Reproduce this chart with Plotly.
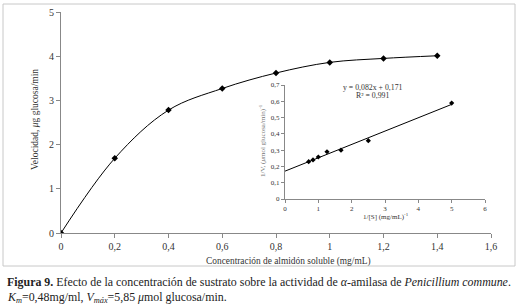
import plotly.graph_objects as go

W, H = 518, 306

# Main curve data
conc = [0, 0.2, 0.4, 0.6, 0.8, 1.0, 1.2, 1.4]
vel = [0, 1.69, 2.78, 3.27, 3.62, 3.86, 3.95, 4.01]

# Lineweaver-Burk inset data
inv_s = [0.71, 0.84, 1.0, 1.26, 1.68, 2.5, 5.0]
inv_v = [0.229, 0.24, 0.258, 0.29, 0.30, 0.358, 0.589]
slope, intercept = 0.082, 0.171

x_ticks = [0, 0.2, 0.4, 0.6, 0.8, 1.0, 1.2, 1.4, 1.6]
x_ticktext = ["0", "0,2", "0,4", "0,6", "0,8", "1", "1,2", "1,4", "1,6"]
y_ticks = [0, 1, 2, 3, 4, 5]
y_ticktext = ["0", "1", "2", "3", "4", "5"]
ix_ticks = [0, 1, 2, 3, 4, 5, 6]
iy_ticks = [0, 0.1, 0.2, 0.3, 0.4, 0.5, 0.6, 0.7]
iy_ticktext = ["0", "0,1", "0,2", "0,3", "0,4", "0,5", "0,6", "0,7"]

def px(x):
    return x / W

def py(y):
    return 1 - y / H

FONT = "Times New Roman, Liberation Serif, DejaVu Serif, serif"

fig = go.Figure()
fig.add_trace(go.Scatter(
    x=conc, y=vel, mode="lines+markers",
    line=dict(color="black", width=1, shape="spline", smoothing=1.0),
    marker=dict(symbol="diamond", size=5, color="black"),
    xaxis="x", yaxis="y", showlegend=False))

fig.add_trace(go.Scatter(
    x=inv_s, y=inv_v, mode="markers",
    marker=dict(symbol="diamond", size=4, color="black"),
    xaxis="x2", yaxis="y2", showlegend=False))

fit_x = [0, max(inv_s)]
fit_y = [slope * v + intercept for v in fit_x]
fig.add_trace(go.Scatter(
    x=fit_x, y=fit_y, mode="lines",
    line=dict(color="black", width=1),
    xaxis="x2", yaxis="y2", showlegend=False))

axis_common = dict(showgrid=False, zeroline=False, showline=True,
                   linecolor="#888", linewidth=1, ticks="outside",
                   tickcolor="#888", mirror=False, automargin=False)

fig.update_layout(
    width=W, height=H,
    margin=dict(l=0, r=0, t=0, b=0, autoexpand=False),
    paper_bgcolor="white", plot_bgcolor="rgba(0,0,0,0)",
    font=dict(family=FONT, color="#333"),
    xaxis=dict(domain=[px(61), px(491)], range=[0, 1.6],
               tickvals=x_ticks, ticktext=x_ticktext, ticklen=4,
               tickfont=dict(size=10, family=FONT, color="#333"),
               anchor="y", **axis_common),
    yaxis=dict(domain=[py(233), py(12)], range=[0, 5],
               tickvals=y_ticks, ticktext=y_ticktext, ticklen=4,
               tickfont=dict(size=10, family=FONT, color="#333"),
               anchor="x", **axis_common),
    xaxis2=dict(domain=[px(285), px(485)], range=[0, 6],
                tickvals=ix_ticks, ticklen=3,
                tickfont=dict(size=7, family=FONT, color="#333"),
                anchor="y2", **axis_common),
    yaxis2=dict(domain=[py(199), py(85)], range=[0, 0.7],
                tickvals=iy_ticks, ticktext=iy_ticktext, ticklen=3,
                tickfont=dict(size=7, family=FONT, color="#333"),
                anchor="x2", **axis_common),
)

fig.add_shape(type="rect", xref="paper", yref="paper",
              x0=px(3), x1=px(515), y0=py(266), y1=py(4),
              line=dict(color="#c8c8c8", width=1), layer="below")

ann = []
ann.append(dict(text="Velocidad, <i>μ</i>g glucosa/min", x=px(35), y=py(120),
                textangle=-90, font=dict(size=9.5, family=FONT, color="#333")))
ann.append(dict(text="Concentración de almidón soluble (mg/mL)", x=px(288), y=py(261),
                font=dict(size=9.4, family=FONT, color="#333")))
ann.append(dict(text="1/V, (<i>μ</i>mol glucosa/min)<sup>-1</sup>", x=px(263), y=py(141),
                textangle=-90, font=dict(size=7, family=FONT, color="#777")))
ann.append(dict(text="1/[S] (mg/mL)<sup>-1</sup>", x=px(386), y=py(216),
                font=dict(size=7, family=FONT, color="#333")))
ann.append(dict(text="y = 0,082x + 0,171", x=px(373), y=py(87),
                font=dict(size=7.8, family=FONT, color="#333")))
ann.append(dict(text="R² = 0,991", x=px(372), y=py(95),
                font=dict(size=7.8, family=FONT, color="#333")))
ann.append(dict(text="<b>Figura 9.</b> Efecto de la concentración de sustrato sobre la actividad de <i>α</i>-amilasa de <i>Penicillium commune</i>.",
                x=px(5), y=py(282), xanchor="left",
                font=dict(size=11.9, family=FONT, color="#222")))
ann.append(dict(text="<i>K<sub>m</sub></i>=0,48mg/ml, <i>V<sub>máx</sub></i>=5,85 <i>μ</i>mol glucosa/min.",
                x=px(5), y=py(297), xanchor="left",
                font=dict(size=11.9, family=FONT, color="#222")))
for a in ann:
    a.setdefault("xanchor", "center")
    a.update(xref="paper", yref="paper", showarrow=False, yanchor="middle")
    fig.add_annotation(**a)

fig.write_html("out.html", config={"displayModeBar": False},
               post_script="document.body.style.margin='0';document.body.style.overflow='hidden';")
